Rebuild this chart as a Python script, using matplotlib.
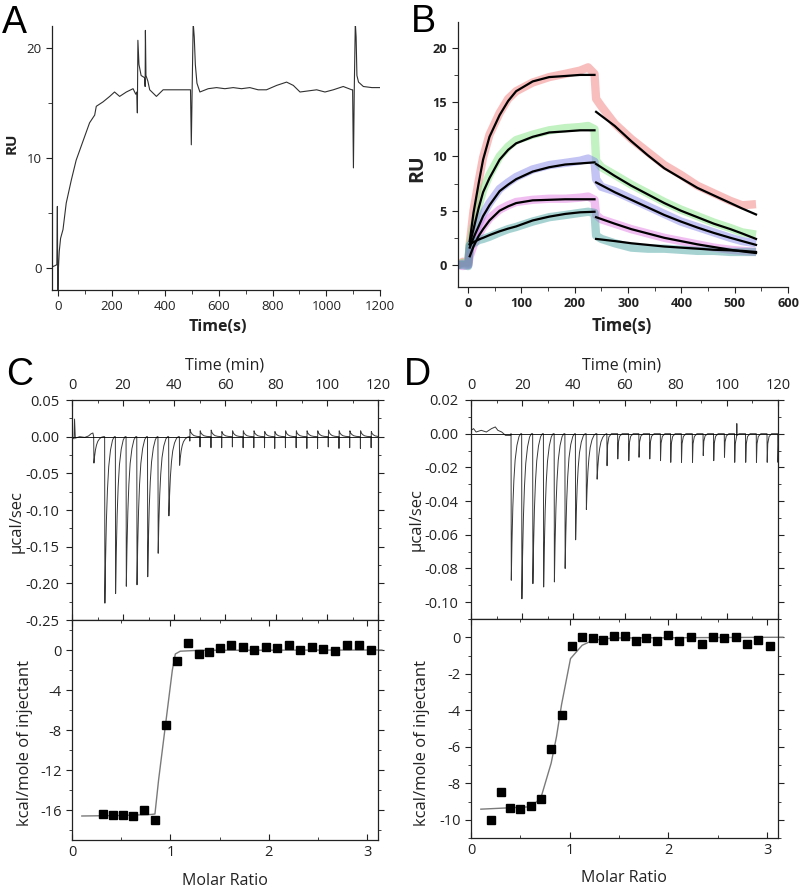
import numpy as np
import matplotlib
matplotlib.use("Agg")
import matplotlib.pyplot as plt
from matplotlib.ticker import MultipleLocator, FuncFormatter

plt.rcParams['font.family'] = ['Open Sans', 'DejaVu Sans']
plt.rcParams['axes.unicode_minus'] = False

# ---- Panel A: single SPR trace (time s, RU) ----
a_time = [-22, -12, -4, -2, -1, 0, 2, 5, 10, 19, 31, 50, 68, 93, 118, 137, 143, 168,
          193, 211, 230, 255, 280, 290, 294, 296, 298, 302, 310, 323, 325, 326, 328,
          335, 342, 367, 392, 429, 479, 494, 497, 500, 504, 508, 512, 518, 529, 560,
          591, 622, 653, 684, 715, 746, 777, 815, 852, 877, 902, 933, 964, 995, 1026,
          1063, 1095, 1098, 1101, 1104, 1108, 1111, 1114, 1120, 1138, 1170, 1200]
a_ru = [0.1, 0.2, 0.3, 5.6, 0.3, -2.0, 0.0, 1.5, 2.7, 3.5, 5.9, 8.0, 9.8, 11.5, 13.2,
        13.9, 14.7, 15.1, 15.6, 16.0, 15.6, 16.0, 16.3, 15.8, 16.0, 14.1, 20.7, 18.5,
        17.5, 17.3, 16.5, 21.6, 17.5, 17.0, 16.2, 15.6, 16.2, 16.2, 16.2, 16.2, 11.2,
        16.0, 22.3, 21.0, 18.5, 16.8, 16.0, 16.3, 16.4, 16.3, 16.4, 16.3, 16.4, 16.2,
        16.2, 16.6, 16.9, 16.6, 16.0, 16.1, 16.2, 16.0, 16.2, 16.5, 16.2, 16.2, 9.1,
        16.0, 22.3, 21.0, 17.5, 16.9, 16.5, 16.4, 16.4]

# ---- Panel B: SPR kinetics, 5 concentrations ----
b_assoc_t = [3, 10, 20, 28, 40, 59, 75, 90, 121, 152, 182, 210, 237]
b_dissoc_t = [240, 275, 306, 337, 368, 399, 430, 461, 492, 514, 540]
fit_assoc = {
    'red':     [2.2, 4.8, 7.6, 9.7, 11.8, 13.8, 15.1, 16.0, 16.9, 17.3, 17.4, 17.5, 17.5],
    'green':   [1.9, 3.3, 5.3, 6.7, 8.0, 9.7, 10.6, 11.2, 11.8, 12.2, 12.3, 12.4, 12.4],
    'blue':    [1.6, 2.5, 3.6, 4.5, 5.5, 6.8, 7.4, 7.9, 8.6, 9.0, 9.25, 9.35, 9.45],
    'magenta': [0.8, 1.7, 2.7, 3.3, 4.1, 5.0, 5.4, 5.7, 5.95, 6.0, 6.05, 6.05, 6.05],
    'teal':    [1.9, 2.1, 2.35, 2.5, 2.75, 3.1, 3.35, 3.55, 4.1, 4.45, 4.7, 4.85, 4.9],
}
fit_dissoc = {
    'red':     [14.1, 12.8, 11.4, 10.1, 8.9, 8.0, 7.1, 6.4, 5.7, 5.2, 4.65],
    'green':   [9.3, 8.2, 7.3, 6.5, 5.7, 5.0, 4.4, 3.8, 3.3, 2.9, 2.4],
    'blue':    [7.6, 6.7, 6.0, 5.3, 4.6, 4.0, 3.45, 2.95, 2.5, 2.2, 1.85],
    'magenta': [4.4, 3.8, 3.3, 2.9, 2.5, 2.2, 1.9, 1.65, 1.4, 1.25, 1.1],
    'teal':    [2.4, 2.2, 2.0, 1.85, 1.7, 1.6, 1.5, 1.4, 1.35, 1.3, 1.2],
}
b_data_t = [-20, -10, 0, 3, 10, 20, 28, 40, 59, 75, 90, 121, 152, 182, 210, 225, 237,
            240, 250, 275, 306, 337, 368, 399, 430, 461, 492, 514, 540]
b_data = {
    'red':     [0.0, 0.3, 0.2, 2.0, 5.0, 7.8, 9.9, 12.0, 14.0, 15.3, 16.0, 16.8, 17.3,
                17.6, 17.9, 18.2, 17.6, 15.3, 14.6, 13.0, 11.6, 10.4, 9.2, 8.3, 7.3,
                6.6, 5.9, 5.5, 5.6],
    'green':   [0.0, 0.2, 0.1, 1.8, 3.5, 5.5, 6.9, 8.3, 10.0, 10.9, 11.5, 12.0, 12.4,
                12.6, 12.7, 12.8, 12.5, 9.6, 9.0, 8.3, 7.4, 6.6, 5.8, 5.1, 4.5, 3.9,
                3.4, 3.0, 2.8],
    'blue':    [0.0, 0.1, 0.0, 1.5, 2.6, 3.8, 4.7, 5.7, 7.0, 7.6, 8.1, 8.8, 9.2, 9.4,
                9.6, 9.8, 9.5, 7.9, 7.2, 6.8, 6.1, 5.4, 4.7, 4.0, 3.5, 3.0, 2.5, 2.2, 2.0],
    'magenta': [0.0, -0.1, 0.0, 0.8, 1.8, 2.8, 3.5, 4.3, 5.1, 5.5, 5.8, 6.0, 6.1, 6.1,
                6.2, 6.3, 6.0, 4.6, 4.2, 3.8, 3.3, 2.9, 2.5, 2.2, 1.9, 1.6, 1.4, 1.3, 1.2],
    'teal':    [0.0, 0.0, -0.1, 1.8, 2.0, 2.3, 2.4, 2.6, 3.0, 3.3, 3.5, 4.0, 4.4, 4.6,
                4.8, 4.9, 4.8, 2.7, 2.4, 2.0, 1.6, 1.5, 1.5, 1.4, 1.3, 1.3, 1.2, 1.2, 1.2],
}
b_colors = {'red': '#f07070', 'green': '#78e078', 'blue': '#7c7ce8',
            'magenta': '#e070e0', 'teal': '#3c9c9c'}

# ---- Panel C: ITC ----
c_base_t = [0, 0.8, 1.0, 1.3, 3, 5, 6.5, 7.5, 8.2]
c_base_v = [0.0, -0.003, 0.024, -0.002, 0.0, -0.001, 0.001, 0.004, 0.005]
c_inj_t = [8.5, 12.8, 17.0, 21.2, 25.4, 29.6, 33.7, 37.9, 42.1]
c_inj_v = [-0.036, -0.227, -0.214, -0.204, -0.202, -0.191, -0.159, -0.108, -0.039]
c_late_t = [46.2, 50.2, 54.5, 58.7, 62.9, 67.1, 71.3, 75.5, 79.5, 83.7, 87.9, 92.1,
            96.3, 100.5, 104.7, 108.9, 113.1, 117.3]
c_late_low = [-0.006, -0.014, -0.015, -0.015, -0.014, -0.015, -0.015, -0.015, -0.016,
              -0.015, -0.015, -0.016, -0.016, -0.014, -0.016, -0.015, -0.016, -0.015]
c_late_high = [0.010, 0.008, 0.009, 0.007, 0.008, 0.008, 0.008, 0.007, 0.007, 0.008,
               0.008, 0.008, 0.008, 0.009, 0.008, 0.008, 0.008, 0.007]
c_ratio = [0.31, 0.415, 0.52, 0.625, 0.734, 0.843, 0.951, 1.064, 1.176, 1.288, 1.397,
           1.509, 1.621, 1.736, 1.852, 1.967, 2.083, 2.205, 2.321, 2.436, 2.555, 2.674,
           2.796, 2.915, 3.038]
c_heat = [-16.4, -16.5, -16.5, -16.6, -16.0, -17.0, -7.5, -1.1, 0.67, -0.37, -0.2,
          0.17, 0.5, 0.33, 0.0, 0.33, 0.17, 0.5, 0.0, 0.27, 0.1, -0.1, 0.5, 0.5, 0.0]
c_fit_x = [0.1, 0.5, 0.8, 0.843, 0.88, 0.95, 1.02, 1.05, 1.1, 1.3, 3.15]
c_fit_y = [-16.6, -16.55, -16.45, -16.4, -13.0, -7.5, -2.0, -0.4, -0.12, -0.03, 0.0]

# ---- Panel D: ITC ----
d_base_t = [0, 1, 2, 4, 6, 8, 9.5, 10.5, 12, 13.5, 15.5]
d_base_v = [0.002, 0.003, 0.001, 0.002, 0.001, 0.003, 0.004, 0.002, 0.001, -0.001, -0.001]
d_inj_t = [15.65, 19.8, 24.1, 28.3, 32.5, 36.7, 40.8, 45.0, 49.2]
d_inj_v = [-0.087, -0.098, -0.089, -0.091, -0.088, -0.080, -0.063, -0.045, -0.027]
d_late_t = [53.1, 57.3, 61.6, 65.6, 69.8, 74.0, 78.0, 82.2, 86.5, 90.7, 94.8, 99.0,
            103.0, 107.3, 111.5, 115.7, 119.9]
d_late_v = [-0.019, -0.015, -0.016, -0.014, -0.015, -0.016, -0.017, -0.017, -0.017,
            -0.013, -0.016, -0.014, -0.017, -0.017, -0.017, -0.017, -0.017]
d_extra_t = [103.9, 104.0]
d_extra_v = [0.006, -0.001]
d_ratio = [0.199, 0.30, 0.40, 0.50, 0.607, 0.708, 0.812, 0.917, 1.021, 1.126, 1.234,
           1.341, 1.449, 1.557, 1.668, 1.776, 1.887, 1.999, 2.11, 2.224, 2.336, 2.45,
           2.565, 2.68, 2.797, 2.912, 3.027]
d_heat = [-10.0, -8.5, -9.34, -9.4, -9.23, -8.89, -6.1, -4.24, -0.47, 0.04, -0.05,
          -0.13, 0.05, 0.07, -0.22, -0.05, -0.22, 0.13, -0.22, 0.0, -0.38, 0.0, -0.05,
          0.0, -0.35, -0.13, -0.47]
d_fit_x = [0.1, 0.607, 0.708, 0.812, 0.866, 0.917, 1.008, 1.126, 1.237, 1.44, 3.16]
d_fit_y = [-9.42, -9.29, -8.8, -6.9, -5.45, -3.7, -1.17, -0.44, -0.16, -0.04, 0.0]

# peak shape template for the big injections (offset in min, fraction of depth)
big_dt = [0, 0.1, 0.35, 0.7, 1.1, 1.6, 2.3, 3.1, 3.8]
big_f = [0, 1, 0.75, 0.5, 0.32, 0.18, 0.08, 0.02, 0]


def build_trace(base_t, base_v, pieces):
    ts, vs = list(base_t), list(base_v)
    for pt, pv in pieces:
        ts += list(pt)
        vs += list(pv)
    order = np.argsort(ts)
    return np.array(ts)[order], np.array(vs)[order]


def big_peaks(times, depths):
    out = []
    for t0, d in zip(times, depths):
        out.append(([t0 + k for k in big_dt], [d * f for f in big_f]))
    return out


c_pieces = big_peaks(c_inj_t, c_inj_v)
for t0, lo, hi in zip(c_late_t, c_late_low, c_late_high):
    c_pieces.append(([t0 - 0.05, t0, t0 + 0.08, t0 + 0.4, t0 + 0.9, t0 + 1.6, t0 + 2.6, t0 + 3.9],
                     [0, lo, hi, hi * 0.6, hi * 0.35, hi * 0.15, hi * 0.05, 0]))
c_t, c_v = build_trace(c_base_t, c_base_v, c_pieces)

d_pieces = big_peaks(d_inj_t, d_inj_v)
for t0, d in zip(d_late_t, d_late_v):
    d_pieces.append(([t0, t0 + 0.08, t0 + 0.3, t0 + 0.8, t0 + 1.8], [0, d, d * 0.35, d * 0.1, 0]))
d_pieces.append((d_extra_t, d_extra_v))
d_t, d_v = build_trace(d_base_t, d_base_v, d_pieces)

# ---------------- figure ----------------
W, H = 800, 891
fig = plt.figure(figsize=(W / 100, H / 100), dpi=100)


def px_axes(left, top, right, bottom):
    return fig.add_axes([left / W, 1 - bottom / H, (right - left) / W, (bottom - top) / H])


def ftext(x, y, s, **kw):
    kw.setdefault('ha', 'center')
    kw.setdefault('va', 'center')
    fig.text(x / W, 1 - y / H, s, **kw)


def fmt2(v, pos):
    if abs(v) < 1e-9:
        return '0.00'
    return '%.2f' % v


def fmt0(v, pos):
    return '%d' % round(v)


ink = '#222222'

# Panel A
axA = px_axes(52, 26, 380, 290)
axA.plot(a_time, a_ru, color='#303030', lw=0.8)
axA.set_xlim(-22, 1200)
axA.set_ylim(-2, 22)
axA.xaxis.set_major_locator(MultipleLocator(200))
axA.xaxis.set_minor_locator(MultipleLocator(100))
axA.yaxis.set_major_locator(MultipleLocator(10))
axA.yaxis.set_minor_locator(MultipleLocator(5))
axA.tick_params(which='both', direction='out', labelsize=9.5, color=ink, labelcolor=ink)
axA.tick_params(which='major', length=4)
axA.tick_params(which='minor', length=3)

# Panel B
axB = px_axes(457.5, 21.7, 788, 286.7)
for key in b_colors:
    axB.plot(b_data_t, b_data[key], color=b_colors[key], lw=6, alpha=0.45,
             solid_capstyle='butt')
for key in b_colors:
    axB.plot(b_assoc_t, fit_assoc[key], color='black', lw=1.6)
    axB.plot(b_dissoc_t, fit_dissoc[key], color='black', lw=1.6)
axB.set_xlim(-20, 600)
axB.set_ylim(-2, 22.4)
axB.xaxis.set_major_locator(MultipleLocator(100))
axB.xaxis.set_minor_locator(MultipleLocator(50))
axB.yaxis.set_major_locator(MultipleLocator(5))
axB.yaxis.set_minor_locator(MultipleLocator(2.5))
axB.tick_params(which='both', direction='out', labelsize=9.2, color=ink, labelcolor=ink)
axB.tick_params(which='major', length=4)
axB.tick_params(which='minor', length=3)
for lab in axB.get_xticklabels() + axB.get_yticklabels():
    lab.set_fontweight('bold')

for ax in (axA, axB):
    ax.spines['top'].set_visible(False)
    ax.spines['right'].set_visible(False)
    for s in ('left', 'bottom'):
        ax.spines[s].set_color(ink)
        ax.spines[s].set_linewidth(0.9)


def style_itc(ax_top, ax_bot, ymaj, ymin, bmaj, bmin):
    for ax in (ax_top, ax_bot):
        for s in ax.spines.values():
            s.set_color(ink)
            s.set_linewidth(0.9)
        ax.tick_params(which='both', direction='in', top=True, right=True, labelsize=10.5,
                       color=ink, labelcolor=ink)
        ax.tick_params(axis='y', which='both', direction='out')
        ax.tick_params(which='major', length=4)
        ax.tick_params(which='minor', length=2.5)
    ax_top.set_xlim(0, 120)
    ax_top.xaxis.set_major_locator(MultipleLocator(20))
    ax_top.xaxis.set_minor_locator(MultipleLocator(10))
    ax_top.yaxis.set_major_locator(MultipleLocator(ymaj))
    ax_top.yaxis.set_minor_locator(MultipleLocator(ymin))
    ax_top.yaxis.set_major_formatter(FuncFormatter(fmt2))
    ax_top.tick_params(labeltop=True, labelbottom=False, pad=5)
    ax_top.axhline(0, color='black', lw=0.6)
    ax_bot.set_xlim(0, 3.11)
    ax_bot.xaxis.set_major_locator(MultipleLocator(1))
    ax_bot.xaxis.set_minor_locator(MultipleLocator(0.5))
    ax_bot.yaxis.set_major_locator(MultipleLocator(bmaj))
    ax_bot.yaxis.set_minor_locator(MultipleLocator(bmin))
    ax_bot.yaxis.set_major_formatter(FuncFormatter(fmt0))


# Panel C
axC1 = px_axes(72, 400, 378, 620)
axC2 = px_axes(72, 620, 378, 840)
axC1.plot(c_t, c_v, color='#383838', lw=0.7)
axC1.set_ylim(-0.25, 0.05)
axC2.plot(c_fit_x, c_fit_y, color='#7a7a7a', lw=1.0, clip_on=False)
axC2.plot(c_ratio, c_heat, 's', color='black', ms=5.5)
axC2.set_ylim(-19, 3)
style_itc(axC1, axC2, 0.05, 0.025, 4, 2)

# Panel D
axD1 = px_axes(471, 400, 778, 619)
axD2 = px_axes(471, 619, 778, 838)
axD1.plot(d_t, d_v, color='#383838', lw=0.7)
axD1.set_ylim(-0.11, 0.02)
axD2.plot(d_fit_x, d_fit_y, color='#7a7a7a', lw=1.0, clip_on=False)
axD2.plot(d_ratio, d_heat, 's', color='black', ms=5.5)
axD2.set_ylim(-11, 1)
style_itc(axD1, axD2, 0.02, 0.01, 2, 1)

# text labels
letter_font = dict(family=['Liberation Sans', 'DejaVu Sans'], fontsize=27, color='black',
                   ha='left', va='baseline')
ftext(2, 33, 'A', **letter_font)
ftext(411, 32, 'B', **letter_font)
ftext(6, 385, 'C', **letter_font)
ftext(404, 385, 'D', **letter_font)

ftext(12, 143, 'RU', rotation=90, fontsize=11, fontweight='bold', color=ink)
ftext(417, 168, 'RU', rotation=90, fontsize=14, fontweight='bold', color=ink)
ftext(218, 327, 'Time(s)', fontsize=11.5, fontweight='bold', color=ink)
ftext(622, 326, 'Time(s)', fontsize=12, fontweight='bold', color=ink)

ftext(225, 366, 'Time (min)', fontsize=11.5, color=ink)
ftext(622, 366, 'Time (min)', fontsize=11.5, color=ink)
ftext(17, 522, 'µcal/sec', rotation=90, fontsize=12, color=ink)
ftext(417, 520, 'µcal/sec', rotation=90, fontsize=12, color=ink)
ftext(25, 743, 'kcal/mole of injectant', rotation=90, fontsize=12, color=ink)
ftext(422, 743, 'kcal/mole of injectant', rotation=90, fontsize=12, color=ink)
ftext(225, 881, 'Molar Ratio', fontsize=11.5, color=ink)
ftext(624, 878, 'Molar Ratio', fontsize=11.5, color=ink)

fig.savefig('out.png', dpi=100, facecolor='white')
